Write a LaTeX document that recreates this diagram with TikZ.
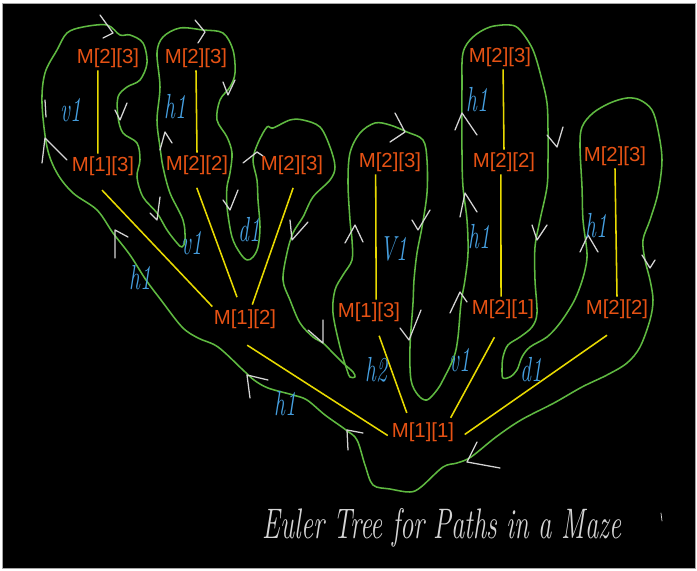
\documentclass[tikz,border=0pt]{standalone}
\usepackage{fontspec}
\usepackage{tikz}
\setmainfont{Latin Modern Roman}
\newfontfamily\cellsans{Liberation Sans}
\definecolor{cellorange}{RGB}{230,82,20}
\definecolor{edgeyellow}{RGB}{232,218,0}
\definecolor{tourgreen}{RGB}{95,185,65}
\definecolor{tipwhite}{RGB}{212,212,212}
\definecolor{labelblue}{RGB}{70,160,225}
\newcommand{\hand}[1]{\scalebox{1}[1.6]{#1}}

\begin{document}
\begin{tikzpicture}[
  x=0.05cm, y=-0.05cm,
  cell/.style={text=cellorange, font=\cellsans\fontsize{29}{30}\selectfont, inner xsep=2pt, inner ysep=4pt},
  tedge/.style={draw=edgeyellow, line width=2.2pt},
  tour/.style={draw=tourgreen, line width=2.2pt, line join=round},
  tip/.style={draw=tipwhite, line width=1.8pt, line cap=round, line join=round},
  lab/.style={text=labelblue, font=\itshape\fontsize{31}{32}\selectfont, inner sep=0pt},
  caption/.style={text=tipwhite, font=\itshape\fontsize{38}{40}\selectfont, inner sep=0pt}
]
  \useasboundingbox (0,0) rectangle (697,571);
  \fill[white] (0,0) rectangle (697,571);
  \fill[black] (2,3) rectangle (695,568);
  \draw[gray!70, line width=0.8pt] (2,3) rectangle (695,568);

  % Euler tour round the tree
  \draw[tour] plot[smooth cycle, tension=0.55] coordinates {
    (410,492) (390,489) (373,485) (365,465) (357,440) (346,430) (325,415) (307,400)
    (293,395) (268,388) (254,380) (243,370) (218,347) (198,338) (182,327) (161,300)
    (146,280) (130,255) (113,233) (97,210) (73,193) (57,173) (47,147) (42,103)
    (45,73) (57,50) (67,33) (83,27) (107,25) (120,35) (130,35) (143,43)
    (147,63) (140,80) (127,87) (118,97) (118,117) (123,133) (137,143) (140,160)
    (137,177) (143,197) (157,213) (167,230) (177,243) (182,247) (185,240) (183,220)
    (170,193) (163,167) (160,147) (157,120) (160,87) (157,53) (163,37) (180,28)
    (203,30) (223,33) (233,50) (235,73) (230,87) (220,100) (217,120) (227,137)
    (232,153) (230,173) (227,187) (227,207) (232,237) (240,253) (247,260) (253,257)
    (258,247) (260,227) (258,200) (257,180) (253,160) (258,143) (267,127) (273,128)
    (290,120) (303,120) (320,127) (330,147) (335,167) (330,180) (313,197) (303,217)
    (293,233) (287,253) (283,280) (290,300) (300,323) (313,337) (323,343) (333,353)
    (343,363) (353,372) (355,377) (350,377) (347,370) (340,347) (333,313) (335,290)
    (343,275) (352,260) (352,240) (350,220) (348,183) (350,153) (360,133) (375,123)
    (390,125) (407,132) (423,140) (427,160) (427,193) (422,227) (417,253) (414,280)
    (413,303) (410,347) (411,380) (418,395) (427,400) (437,390) (443,380) (454,357)
    (458,337) (461,303) (465,280) (468,253) (467,220) (463,187) (462,153) (462,87)
    (463,53) (473,37) (490,27) (510,25) (520,30) (533,50) (542,80) (547,103)
    (548,130) (548,160) (547,187) (540,220) (535,247) (535,280) (537,313) (532,327)
    (520,337) (508,345) (503,357) (502,370) (503,378) (510,377) (517,370) (522,357)
    (530,347) (547,337) (560,323) (573,303) (580,287) (585,270) (587,253) (583,220)
    (582,187) (580,147) (582,127) (593,113) (610,103) (627,98) (640,100) (652,110)
    (658,130) (662,160) (658,193) (650,220) (643,240) (645,260) (650,280) (653,300)
    (650,320) (640,347) (627,363) (607,375) (582,387) (554,403) (521,420) (496,437)
    (471,457) (457,463) (443,467) (421,487)};

  % direction marks on the tour
  \foreach \xa/\ya/\xb/\yb/\xc/\yc in {
      100/15/113/33/103/38, 115/110/120/120/127/103, 150/213/157/220/160/197,
      195/20/205/32/198/43, 223/82/228/95/235/80, 223/200/230/210/238/190,
      160/150/165/132/172/143, 42/163/45/138/67/160, 243/163/257/152/263/156,
      290/220/292/240/308/222, 115/258/115/230/128/237, 308/330/323/343/323/320,
      250/398/247/375/268/380, 348/450/347/430/363/433, 477/442/467/462/500/468,
      395/113/405/132/390/142, 345/243/355/225/363/242, 412/220/418/230/430/210,
      455/130/462/113/477/135, 460/217/465/193/477/212, 547/135/557/147/563/127,
      532/225/537/240/547/225, 580/252/588/235/598/252, 642/255/650/268/655/260,
      400/328/409/340/421/310, 450/313/460/292/467/302}
    \draw[tip] (\xa,\ya) -- (\xb,\yb) -- (\xc,\yc);
  \draw[tip] (45,100) -- (46,117);

  % cells of the maze
  \node[cell] (t1) at (108,58) {M[2][3]};
  \node[cell] (t2) at (196,58) {M[2][3]};
  \node[cell] (t3) at (500,57) {M[2][3]};
  \node[cell] (m1) at (103,166) {M[1][3]};
  \node[cell] (m2) at (197,165) {M[2][2]};
  \node[cell] (m3) at (292,165) {M[2][3]};
  \node[cell] (m4) at (390,162) {M[2][3]};
  \node[cell] (m5) at (504,162) {M[2][2]};
  \node[cell] (m6) at (615,156) {M[2][3]};
  \node[cell] (l1) at (245,319) {M[1][2]};
  \node[cell] (l2) at (369,312) {M[1][3]};
  \node[cell] (l3) at (503,309) {M[2][1]};
  \node[cell] (l4) at (617,309) {M[2][2]};
  \node[cell] (root) at (423,432) {M[1][1]};

  % tree edges
  \draw[tedge] (t1.231) -- (m1.112);
  \draw[tedge] (t2.south) -- (m2.north);
  \draw[tedge] (t3.284) -- (m5.north);
  \draw[tedge] (m4.221) -- (l2.60);
  \draw[tedge] (m5.256) -- (l3.99);
  \draw[tedge] (m6.south) -- (l4.north);
  \draw[tedge, shorten <=0.8cm] (m1.226) -- (l1.north west);
  \draw[tedge, shorten <=0.55cm, shorten >=0.5cm] (m2.252) -- (l1.110);
  \draw[tedge, shorten <=0.55cm, shorten >=0.1cm] (m3.291) -- (l1.62);
  \draw[tedge, shorten <=1.27cm, shorten >=0.15cm] (l1.213) -- (root.189);
  \draw[tedge, shorten <=0.6cm, shorten >=0.35cm] (l2.296) -- (root.138);
  \draw[tedge, shorten <=0.9cm, shorten >=0.1cm] (l3.south) -- (root.25);
  \draw[tedge, shorten <=1.2cm, shorten >=0.55cm] (l4.308) -- (root.345);

  % moves
  \node[lab] (mv1) at (71,110) {\hand{v1}};
  \node[lab] (mv2) at (175,107) {\hand{h1}};
  \node[lab] (mv3) at (192,243) {\hand{v1}};
  \node[lab] (mv4) at (249,230) {\hand{d1}};
  \node[lab] (mv5) at (140,278) {\hand{h1}};
  \node[lab] (mv6) at (285,404) {\hand{h1}};
  \node[lab] (mv7) at (376,370) {\hand{h2}};
  \node[lab] (mv8) at (460,360) {\hand{v1}};
  \node[lab] (mv9) at (531,370) {\hand{d1}};
  \node[lab] (mv10) at (394,249) {\hand{V1}};
  \node[lab] (mv11) at (477,100) {\hand{h1}};
  \node[lab] (mv12) at (479,237) {\hand{h1}};
  \node[lab] (mv13) at (596,226) {\hand{h1}};

  % title
  \node[caption] (title) at (442,528) {\scalebox{1}[1.6]{Euler Tree for Paths in a Maze}};
  \draw[tip, line width=1pt] (661,513) -- (662,521);
\end{tikzpicture}
\end{document}
